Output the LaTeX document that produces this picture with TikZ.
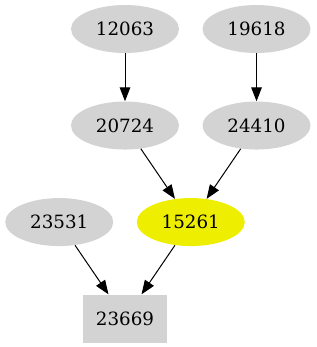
\documentclass[tikz,border=0pt]{standalone}
\usepackage{fontspec}
\setmainfont{DejaVu Serif}
\usepackage{tikz}
\usetikzlibrary{arrows.meta,positioning,shapes.geometric,calc}
\definecolor{nodegray}{HTML}{D3D3D3}
\definecolor{hilite}{HTML}{EEEE00}

\begin{document}
\begin{tikzpicture}[
    node distance=36pt and 17.25pt,
    job/.style={ellipse, fill=nodegray, inner sep=0pt,
                minimum width=81pt, minimum height=36pt,
                font=\fontsize{13.7}{16}\selectfont},
    target/.style={job, fill=hilite},
    sink/.style={rectangle, fill=nodegray, inner sep=0pt,
                 minimum width=63pt, minimum height=36pt,
                 font=\fontsize{13.7}{16}\selectfont},
    arrow/.style={-{Triangle[length=10.5pt,width=8pt]}, line width=0.75pt, color=black}
]
    \useasboundingbox (0,0) rectangle (237.75pt,-260.25pt);

    \node[job] (n12063) at (93.75pt,-21.75pt) {12063};
    \node[job, right=of n12063] (n19618) {19618};
    \node[job, below=of n12063] (n20724) {20724};
    \node[job, below=of n19618] (n24410) {24410};
    \coordinate (mid1) at ($(n20724.south)!0.5!(n24410.south)$);
    \node[target, below=of mid1] (n15261) {15261};
    \node[job, left=of n15261] (n23531) {23531};
    \coordinate (mid2) at ($(n23531.south)!0.5!(n15261.south)$);
    \node[sink, below=of mid2] (n23669) {23669};

    \draw[arrow] (n12063) -- (n20724);
    \draw[arrow] (n19618) -- (n24410);
    \draw[arrow] (n20724) -- (n15261);
    \draw[arrow] (n24410) -- (n15261);
    \draw[arrow] (n23531) -- (n23669);
    \draw[arrow] (n15261) -- (n23669);
\end{tikzpicture}
\end{document}
